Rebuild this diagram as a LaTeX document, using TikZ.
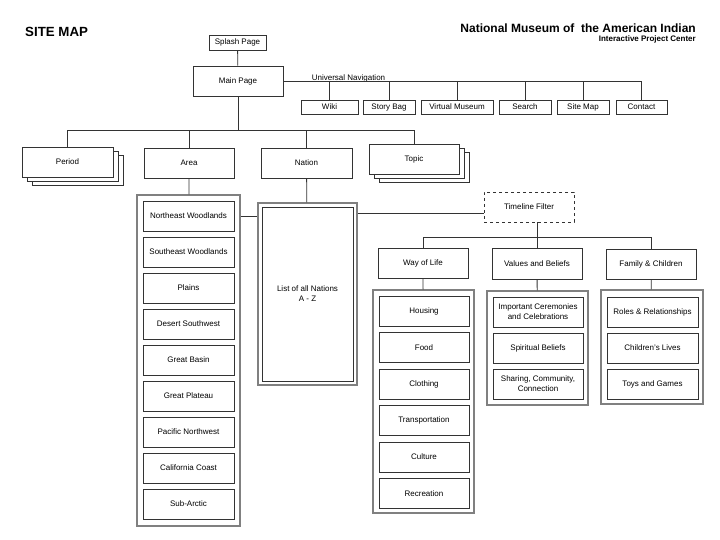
\documentclass[tikz,border=0pt]{standalone}
\usepackage{fontspec}
\setmainfont{Liberation Sans}
\usepackage{tikz}
\usetikzlibrary{shadows}

\begin{document}
\begin{tikzpicture}[x=1pt, y=-1pt,
	box/.style={draw=black!80, line width=0.8pt, fill=white, inner sep=0pt, align=center, minimum width=90pt, minimum height=30pt, font=\fontsize{8}{10}\selectfont},
	navbox/.style={box, minimum height=14pt, text height=6pt, text depth=1.5pt},
	group/.style={draw=black!50, line width=1.4pt, fill=white, inner sep=0pt},
	stack/.style={box, copy shadow={shadow xshift=10pt, shadow yshift=-8pt, draw=black!80, line width=0.8pt}, copy shadow={shadow xshift=5pt, shadow yshift=-4pt, draw=black!80, line width=0.8pt}},
	link/.style={draw=black!80, line width=0.8pt}]
	\useasboundingbox (0,0) rectangle (720,540);
	\node[anchor=west, inner sep=0pt, font=\fontsize{13.3}{15}\selectfont\bfseries] (sitemap) at (25,32) {SITE MAP};
	\node[anchor=east, inner sep=0pt, font=\fontsize{12}{14}\selectfont\bfseries] (title) at (696,28) {National Museum of \ the American Indian};
	\node[anchor=east, inner sep=0pt, font=\fontsize{8}{10}\selectfont\bfseries] (subtitle) at (696,39.5) {Interactive Project Center};

	\node[navbox, minimum width=57pt, minimum height=15pt] (splash) at (237.5,42.5) {Splash Page};
	\node[box] (main) at (238,81) {Main Page};
	\draw[link] (splash) -- (main);

	\node[font=\fontsize{8}{10}\selectfont, inner sep=0pt] (unav) at (348.5,78) {Universal Navigation};
	\node[navbox, minimum width=57pt] (wiki) at (329.5,107) {Wiki};
	\node[navbox, minimum width=52pt] (bag) at (389,107) {Story Bag};
	\node[navbox, minimum width=72pt] (virtual) at (457,107) {Virtual Museum};
	\node[navbox, minimum width=52pt] (search) at (525,107) {Search};
	\node[navbox, minimum width=52pt] (smap) at (583,107) {Site Map};
	\node[navbox, minimum width=51pt] (contact) at (641.5,107) {Contact};
	\foreach \n in {wiki,bag,virtual,search,smap,contact}
		\draw[link] (\n.north) |- (main.east);

	\node[stack, minimum width=91pt] (period) at (67.5,162) {Period};
	\node[box] (area) at (189,163) {Area};
	\node[box, minimum width=91pt] (nation) at (306.5,163) {Nation};
	\node[stack] (topic) at (414,159) {Topic};
	\coordinate (bus) at (238,130);
	\draw[link] (main.south) -- (bus);
	\foreach \n in {period,area,nation,topic}
		\draw[link] (bus) -| (\n.north);

	\node[group, minimum width=103pt, minimum height=331pt] (areabox) at (188.5,360.5) {};
	\draw[link] (area) -- (areabox);
	\foreach \n/\t [count=\i from 0] in {ne/Northeast Woodlands, se/Southeast Woodlands, plains/Plains, desert/Desert Southwest, basin/Great Basin, plateau/Great Plateau, pacific/Pacific Northwest, coast/California Coast, arctic/Sub-Arctic}
		\node[box, minimum width=91pt] (\n) at (188.5,216+36*\i) {\t};

	\node[group, minimum width=99pt, minimum height=182pt] (nlist) at (307.5,294) {};
	\node[box, minimum width=91pt, minimum height=174pt] (nations) at (307.5,294) {List of all Nations\\A - Z};
	\draw[link] (nation) -- (nlist);
	\draw[link] (ne.east -| areabox.east) -- (ne.east -| nlist.west);

	\node[box, dashed] (timeline) at (529,207) {Timeline Filter};
	\draw[link] ([yshift=-6pt]timeline.west) -- ([yshift=-6pt]timeline.west -| nlist.east);

	\node[box] (way) at (423,263) {Way of Life};
	\node[box, minimum height=31pt] (values) at (537,263.5) {Values and Beliefs};
	\node[box] (family) at (651,264) {Family \& Children};
	\coordinate (tbus) at (537,237);
	\draw[link] (timeline.south -| tbus) -- (tbus);
	\foreach \n in {way,values,family}
		\draw[link] (tbus) -| (\n.north);

	\node[group, minimum width=101pt, minimum height=223pt] (waybox) at (423.5,401.5) {};
	\draw[link] (way) -- (waybox);
	\foreach \n/\t [count=\i from 0] in {housing/Housing, food/Food, clothing/Clothing, transport/Transportation, culture/Culture, recreation/Recreation}
		\node[box] (\n) at (424,311+36.5*\i) {\t};

	\node[group, minimum width=101pt, minimum height=114pt] (valbox) at (537.5,348) {};
	\draw[link] (values) -- (valbox);
	\foreach \n/\t [count=\i from 0] in {ceremonies/Important Ceremonies\\and Celebrations, spiritual/Spiritual Beliefs, sharing/{Sharing, Community,\\Connection}}
		\node[box] (\n) at (538,312+36*\i) {\t};

	\node[group, minimum width=102pt, minimum height=114pt] (fambox) at (652,347) {};
	\draw[link] (family) -- (fambox);
	\foreach \n/\t [count=\i from 0] in {roles/Roles \& Relationships, lives/Children's Lives, toys/Toys and Games}
		\node[box, minimum width=91pt] (\n) at (652.5,312+36*\i) {\t};
\end{tikzpicture}
\end{document}
